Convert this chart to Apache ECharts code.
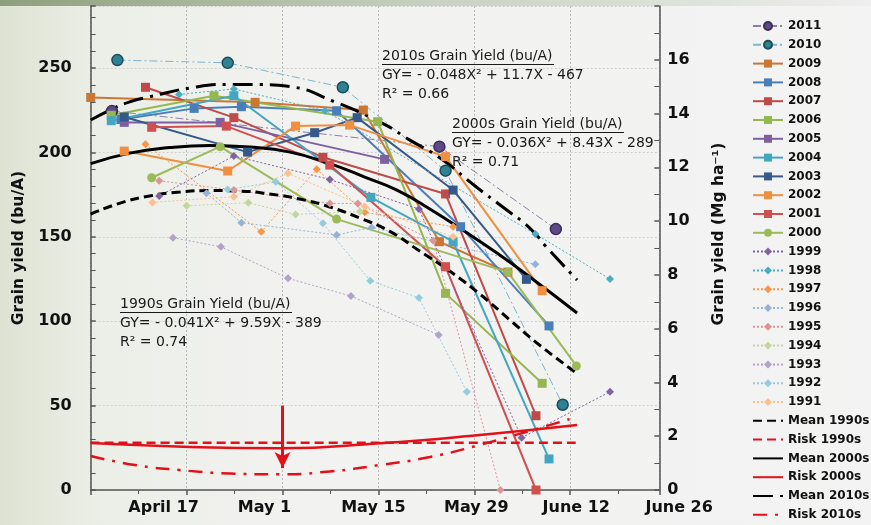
<!DOCTYPE html>
<html>
<head>
<meta charset="utf-8">
<script src="https://cdn.jsdelivr.net/npm/echarts@6/dist/echarts.min.js"></script>
<style>
  html, body { margin: 0; padding: 0; background: #f2f2f0; }
  #chart { width: 871px; height: 525px; }
</style>
</head>
<body>
<div id="chart"></div>
<script>
// x = days after April 3, y = grain yield (bu/A)
const y2011 = [[3.1, 224.5], [50.9, 203.4], [67.9, 154.6]];
const y2010 = [[3.9, 254.7], [20, 253.1], [36.8, 238.6], [51.8, 189.2], [68.9, 50.5]];
const y2009 = [[0, 232.6], [24, 229.7], [39.8, 225.1], [50.9, 147.1], [60.9, 129.1]];
const y2008 = [[4.4, 219.5], [15.1, 226.1], [22, 227.1], [35.9, 224.7], [54, 156], [66.9, 97.2]];
const y2007 = [[8, 238.6], [20.9, 220.6], [33.9, 197.1], [51.8, 175.4], [65, 44]];
const y2006 = [[3, 222], [18, 233.6], [41.9, 218.2], [51.8, 116.5], [65.9, 63.2]];
const y2005 = [[4.9, 217.8], [18.9, 217.8], [42.9, 195.9]];
const y2004 = [[3, 218.8], [20.9, 233.6], [40.9, 173.4], [52.9, 147.1], [66.9, 18.4]];
const y2003 = [[4.9, 221], [22.9, 200.2], [32.7, 211.7], [38.9, 220.6], [52.9, 177.7], [63.6, 124.8]];
const y2002 = [[4.9, 200.8], [20, 189], [29.9, 215.6], [37.8, 216.2], [51.8, 197.5], [65.9, 118.1]];
const y2001 = [[8.9, 214.9], [19.8, 215.6], [34.9, 192.5], [51.8, 132.3], [65, 0]];
const y2000 = [[8.9, 185], [18.9, 203.4], [35.9, 160.5], [60.9, 129.1], [70.9, 73.5]];
const y1999 = [[10, 174.2], [20.9, 197.9], [34.9, 184], [47.9, 166.5], [62.9, 31], [75.8, 58.2]];
const y1998 = [[12.9, 234.4], [20.9, 237.6], [34.2, 224.7], [64.9, 151.7], [75.8, 125]];
const y1997 = [[8, 204.8], [24.9, 153], [33, 190], [40, 164.5], [52.9, 156]];
const y1996 = [[16.9, 175.8], [22, 158.4], [35.9, 151.1], [41, 155.6], [64.9, 133.7]];
const y1995 = [[10, 183.2], [20.9, 177.7], [34.9, 169.8], [39, 169.8], [50, 147.7], [59.8, 0]];
const y1994 = [[14, 168.4], [23, 170.2], [29.9, 163.3], [39.3, 165]];
const y1993 = [[12, 149.5], [19, 144.1], [28.8, 125.4], [38, 114.9], [50.8, 91.8]];
const y1992 = [[20, 178], [27, 182.6], [33.9, 158], [40.8, 124], [47.9, 113.9], [54.9, 58.2]];
const y1991 = [[9, 170.4], [20.9, 173.8], [28.8, 187.6], [40, 168], [52.9, 150]];

// fitted decade curves
const mean1990s = [[0, 163.5], [4.3, 170], [8.6, 174.2], [13, 176.5], [17.4, 177.4], [21.8, 177.1], [26.1, 175.4],
  [30.5, 172.4], [34.9, 167.7], [39.3, 161.1], [43.6, 153.4], [48, 141.6], [52.4, 129.7], [56.8, 116.1],
  [61.2, 100.7], [65.5, 85.9], [70.9, 69.3]];
const mean2000s = [[0, 193.4], [5.7, 199.6], [11.6, 202.9], [17.4, 204.1], [23.2, 203.2], [29.1, 200.2],
  [34.9, 193.4], [40, 185.4], [44.7, 177.7], [49.5, 166.5], [54.3, 154], [59.3, 140.4], [64.1, 126.2], [71, 104.9]];
const mean2010s = [[0, 219.2], [2.8, 225.1], [5.7, 230], [8.6, 233], [14.5, 238.2], [19.8, 240.3], [24.7, 240.2],
  [29.1, 239], [35.6, 230], [42.6, 217.2], [46.6, 207.3], [51, 196.7], [56.3, 179.5], [60.1, 167.8],
  [64.1, 155.2], [66.5, 144.1], [71, 124.4]];
const risk1990s = [[0, 28], [71, 28]];
const risk2000s = [[0, 27.8], [14.5, 25.5], [27.6, 24.7], [42.2, 27.7], [56.8, 32.6], [71, 38.5]];
const risk2010s = [[0, 20.1], [6.5, 14.8], [13, 11.8], [20.3, 9.8], [27.6, 9.3], [34.9, 11], [42.2, 14.8],
  [49.5, 19.5], [56.8, 26.7], [64.1, 35], [69.9, 42]];
const riskArrow = [[28, 50], [28, 13]];

const xTickDays = [14, 28, 42, 56, 70, 84];
const xTickLabels = ['April 17', 'May 1', 'May 15', 'May 29', 'June 12', 'June 26'];
const xMax = 83;
const buToMg = 0.06277;
const mgMax = 18;

const FONT = 'DejaVu Sans';
const RED = '#e3101a';
// the original's date labels drift sideways from their ticks (px)
const labelShift = [-23, -18, -5, 2, 6, 13];

const years = [
  { name: '2011', data: y2011, color: '#5d4a87', line: '#8a7fa6', symbol: 'circle', kind: 'dd', border: '#3b2d5c' },
  { name: '2010', data: y2010, color: '#2f8194', line: '#7fb4cc', symbol: 'circle', kind: 'dd', border: '#1d4c58' },
  { name: '2009', data: y2009, color: '#cc7634', symbol: 'rect', kind: 'solid' },
  { name: '2008', data: y2008, color: '#4a7ebb', symbol: 'rect', kind: 'solid' },
  { name: '2007', data: y2007, color: '#be4b48', symbol: 'rect', kind: 'solid' },
  { name: '2006', data: y2006, color: '#94b750', symbol: 'rect', kind: 'solid' },
  { name: '2005', data: y2005, color: '#7d60a0', symbol: 'rect', kind: 'solid' },
  { name: '2004', data: y2004, color: '#43a7c2', symbol: 'rect', kind: 'solid' },
  { name: '2003', data: y2003, color: '#35598a', symbol: 'rect', kind: 'solid' },
  { name: '2002', data: y2002, color: '#f08f40', symbol: 'rect', kind: 'solid' },
  { name: '2001', data: y2001, color: '#d0504f', symbol: 'rect', kind: 'solid' },
  { name: '2000', data: y2000, color: '#9bbb59', symbol: 'circle', kind: 'solid' },
  { name: '1999', data: y1999, color: '#8064a2', symbol: 'diamond', kind: 'dotted' },
  { name: '1998', data: y1998, color: '#4bacc6', symbol: 'diamond', kind: 'dotted' },
  { name: '1997', data: y1997, color: '#f79646', symbol: 'diamond', kind: 'dotted' },
  { name: '1996', data: y1996, color: '#95b3d7', symbol: 'diamond', kind: 'dotted' },
  { name: '1995', data: y1995, color: '#d99694', symbol: 'diamond', kind: 'dotted' },
  { name: '1994', data: y1994, color: '#c3d69b', symbol: 'diamond', kind: 'dotted' },
  { name: '1993', data: y1993, color: '#b3a2c7', symbol: 'diamond', kind: 'dotted' },
  { name: '1992', data: y1992, color: '#93cddd', symbol: 'diamond', kind: 'dotted' },
  { name: '1991', data: y1991, color: '#fac090', symbol: 'diamond', kind: 'dotted' }
];

const curves = [
  { name: 'Mean 1990s', data: mean1990s, color: '#000', type: [9, 5], width: 3 },
  { name: 'Risk 1990s', data: risk1990s, color: RED, type: [9, 5], width: 2.5 },
  { name: 'Mean 2000s', data: mean2000s, color: '#000', type: 'solid', width: 3 },
  { name: 'Risk 2000s', data: risk2000s, color: RED, type: 'solid', width: 2.5 },
  { name: 'Mean 2010s', data: mean2010s, color: '#000', type: [20, 7, 3, 7], width: 3 },
  { name: 'Risk 2010s', data: risk2010s, color: RED, type: [14, 8, 3, 8], width: 2.5 }
];

function yearSeries(s) {
  const solid = s.kind === 'solid';
  const dotted = s.kind === 'dotted';
  return {
    name: s.name,
    type: 'line',
    data: s.data,
    symbol: s.symbol,
    symbolSize: solid ? 9 : dotted ? 8 : 11,
    itemStyle: {
      color: s.color,
      borderColor: s.border || s.color,
      borderWidth: s.border ? 1.5 : 0
    },
    lineStyle: {
      color: s.line || s.color,
      width: solid ? 2 : 1,
      type: solid ? 'solid' : dotted ? [2, 2] : [8, 3, 2, 3]
    },
    emphasis: { disabled: true }
  };
}

function curveSeries(c) {
  const s = {
    name: c.name,
    type: 'line',
    data: c.data,
    smooth: true,
    symbol: 'none',
    // transparent item colour keeps the legend to a bare line
    itemStyle: { color: 'rgba(0,0,0,0)' },
    lineStyle: { color: c.color, width: c.width, type: c.type },
    emphasis: { disabled: true },
    z: 3
  };
  if (c.name === 'Risk 2000s') {
    s.markLine = {
      silent: true,
      symbol: ['none', 'arrow'],
      symbolSize: [12, 16],
      label: { show: false },
      lineStyle: { color: RED, width: 3, type: 'solid' },
      data: [[{ coord: riskArrow[0] }, { coord: riskArrow[1] }]]
    };
  }
  return s;
}

const chart = echarts.init(document.getElementById('chart'));

const axisLine = { show: true, lineStyle: { color: '#555', width: 1.5 } };
const tickLabel = { fontFamily: FONT, fontWeight: 'bold', fontSize: 16, color: '#111' };
const axisName = { fontFamily: FONT, fontWeight: 'bold', fontSize: 15.5, color: '#111' };

const xRich = {};
labelShift.forEach((d, i) => {
  xRich['s' + i] = Object.assign({}, tickLabel, {
    padding: d < 0 ? [0, -2 * d, 0, 0] : [0, 0, 0, 2 * d]
  });
});

chart.setOption({
  animation: false,
  backgroundColor: new echarts.graphic.LinearGradient(0, 0, 1, 0, [
    { offset: 0, color: '#dde3d3' },
    { offset: 0.12, color: '#ecefe8' },
    { offset: 0.35, color: '#f2f2f0' },
    { offset: 1, color: '#f3f3f3' }
  ]),
  grid: { left: 90.7, right: 211.7, top: 6, bottom: 35 },
  legend: {
    orient: 'vertical',
    left: 752,
    top: 20,
    padding: 0,
    itemWidth: 30,
    itemHeight: 10,
    itemGap: 6.8,
    textStyle: { fontFamily: FONT, fontWeight: 'bold', fontSize: 12, color: '#111' },
    data: years.map(s => s.name).concat(curves.map(c => c.name))
  },
  xAxis: {
    type: 'value',
    min: 0,
    max: xMax,
    interval: 14,
    axisLine: axisLine,
    axisTick: { show: true, length: 5, lineStyle: { color: '#555', width: 1.5 } },
    minorTick: { show: true, splitNumber: 2, length: 4, lineStyle: { color: '#555' } },
    axisLabel: Object.assign({}, tickLabel, {
      margin: 10,
      rich: xRich,
      formatter: v => {
        const i = xTickDays.indexOf(v);
        return i >= 0 ? '{s' + i + '|' + xTickLabels[i] + '}' : '';
      }
    }),
    splitLine: { show: true, lineStyle: { color: '#b8b8b8', type: [2, 2], width: 1 } }
  },
  yAxis: [
    {
      type: 'value',
      min: 0,
      max: mgMax / buToMg,
      interval: 50,
      position: 'left',
      name: 'Grain yield (bu/A)',
      nameLocation: 'middle',
      nameGap: 54,
      nameTextStyle: axisName,
      axisLine: axisLine,
      axisTick: { show: true, inside: true, length: 5, lineStyle: { color: '#555', width: 1.5 } },
      minorTick: { show: true, splitNumber: 5, length: 5, lineStyle: { color: '#555' } },
      axisLabel: Object.assign({}, tickLabel, {
        margin: 19,
        formatter: v => (v % 50 === 0 ? String(v) : '')
      }),
      splitLine: { show: true, lineStyle: { color: '#cfcfcf', type: [2, 2], width: 1 } }
    },
    {
      type: 'value',
      min: 0,
      max: mgMax,
      interval: 2,
      position: 'right',
      name: 'Grain yield (Mg ha\u207B\u00B9)',
      nameLocation: 'middle',
      nameGap: 52,
      nameRotate: 90,
      nameTextStyle: Object.assign({ padding: [0, 0, 0, 28] }, axisName),
      axisLine: axisLine,
      axisTick: { show: true, inside: true, length: 5, lineStyle: { color: '#555', width: 1.5 } },
      minorTick: { show: true, splitNumber: 2, length: 5, lineStyle: { color: '#555' } },
      axisLabel: Object.assign({}, tickLabel, {
        margin: 8,
        formatter: v => (v < mgMax ? String(v) : '')
      }),
      splitLine: { show: false }
    }
  ],
  series: years.map(yearSeries).concat(curves.map(curveSeries))
});

// annotations; the last date label sits past the axis end, as in the original
const lastX = chart.convertToPixel({ xAxisIndex: 0 }, xTickDays[xTickDays.length - 1]);
const baseY = chart.convertToPixel({ yAxisIndex: 0 }, 0);

function note(x, y, title, eq, r2) {
  const txt = { fontFamily: FONT, fontSize: 14, fill: '#1a1a1a' };
  return [
    { type: 'text', left: x, top: y, style: Object.assign({ text: title }, txt) },
    { type: 'rect', left: x, top: y + 15, shape: { width: 172, height: 1 }, style: { fill: '#1a1a1a' } },
    { type: 'text', left: x, top: y + 19, style: Object.assign({ text: eq }, txt) },
    { type: 'text', left: x, top: y + 38, style: Object.assign({ text: r2 }, txt) }
  ];
}

chart.setOption({
  graphic: [
    { type: 'rect', left: 0, top: 0, shape: { width: 871, height: 6 },
      style: { fill: new echarts.graphic.LinearGradient(0, 0, 1, 0, [
        { offset: 0, color: '#8da07c' }, { offset: 0.5, color: '#c9d1c0' }, { offset: 1, color: '#eeeeee' }]) } },
    { type: 'text', x: lastX + labelShift[labelShift.length - 1], y: baseY + 10,
      style: { text: xTickLabels[xTickLabels.length - 1], textAlign: 'center', fill: '#111',
        font: 'bold 16px "DejaVu Sans"' } }
  ].concat(
    note(382, 49, '2010s Grain Yield (bu/A)', 'GY= - 0.048X\u00B2 + 11.7X - 467', 'R\u00B2 = 0.66'),
    note(452, 117, '2000s Grain Yield (bu/A)', 'GY= - 0.036X\u00B2 + 8.43X - 289', 'R\u00B2 = 0.71'),
    note(120, 297, '1990s Grain Yield (bu/A)', 'GY= - 0.041X\u00B2 + 9.59X - 389', 'R\u00B2 = 0.74')
  )
});
</script>
</body>
</html>
